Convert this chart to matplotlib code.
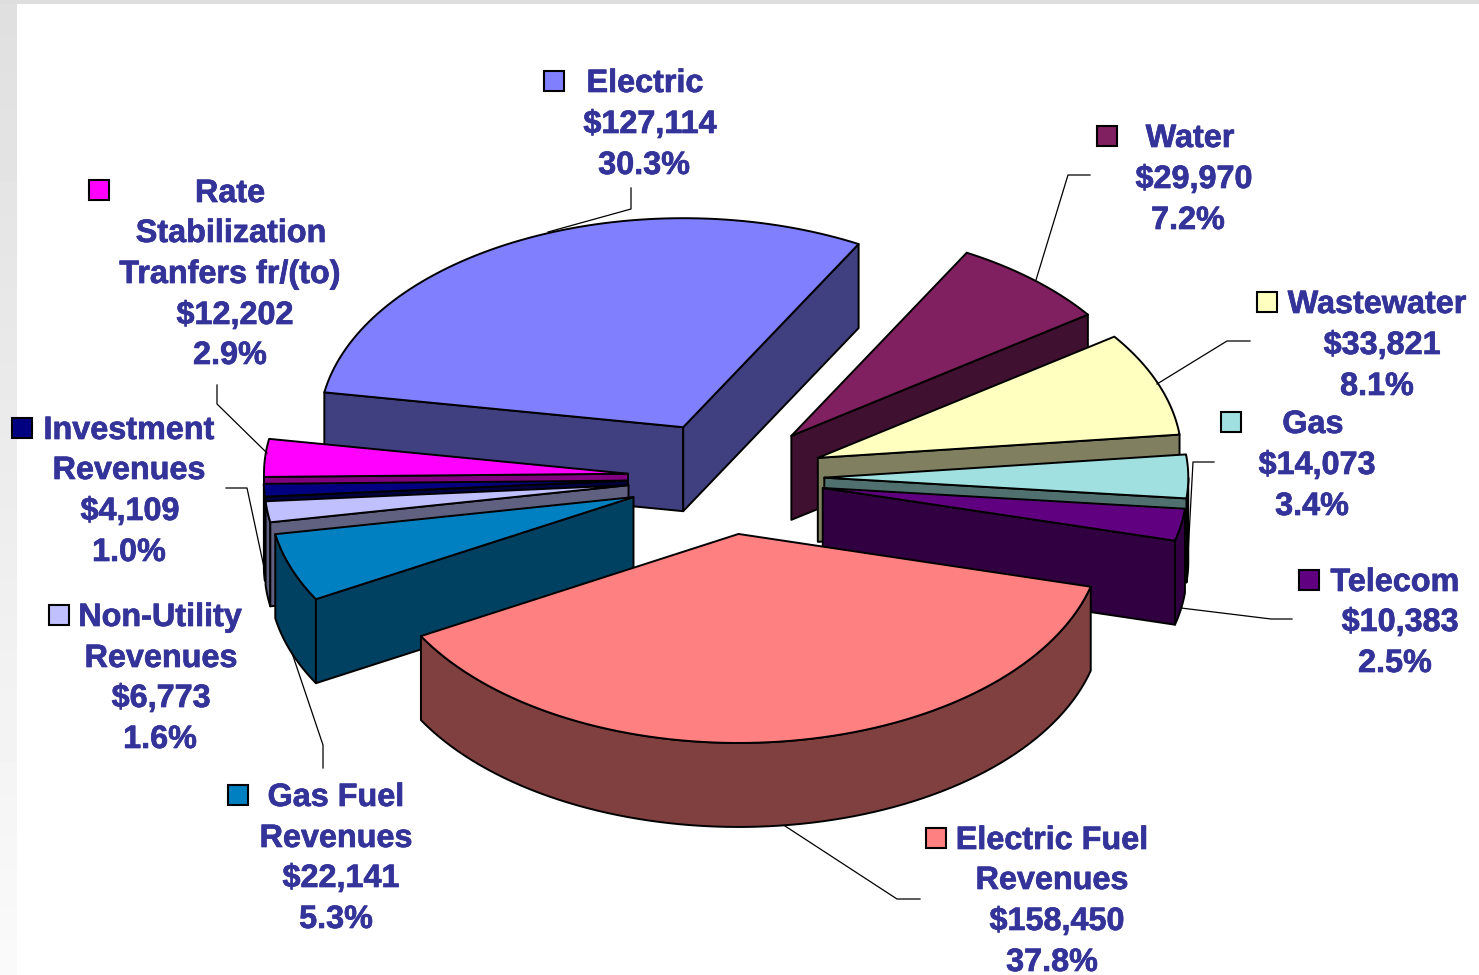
import numpy as np
import matplotlib
matplotlib.use("Agg")
import matplotlib.pyplot as plt
import matplotlib.patheffects as pe
from matplotlib.patches import Polygon, Rectangle

names = ["Electric", "Water", "Wastewater", "Gas", "Telecom", "Electric Fuel Revenues",
         "Gas Fuel Revenues", "Non-Utility Revenues", "Investment Revenues",
         "Rate Stabilization Tranfers fr/(to)"]
values = [127114, 29970, 33821, 14073, 10383, 158450, 22141, 6773, 4109, 12202]
top_colors = ["#8080FF", "#802060", "#FFFFC0", "#A0E0E0", "#600080", "#FF8080",
              "#0080C0", "#C0C0FF", "#000080", "#FF00FF"]
side_colors = ["#404080", "#401030", "#808060", "#507070", "#300040", "#804040",
               "#004060", "#606080", "#000040", "#800080"]
# back slices first, the big front slice last
draw_order = [0, 1, 2, 3, 4, 9, 8, 7, 6, 5]

# label text: one list of (x centre, baseline y, text) per slice
label_lines = [
    [(645, 92, "Electric"), (650, 133, "$127,114"), (644, 174, "30.3%")],
    [(1190, 147, "Water"), (1194, 188, "$29,970"), (1188, 229, "7.2%")],
    [(1377, 313, "Wastewater"), (1382, 354, "$33,821"), (1377, 395, "8.1%")],
    [(1313, 433, "Gas"), (1317, 474, "$14,073"), (1312, 515, "3.4%")],
    [(1395, 591, "Telecom"), (1400, 631, "$10,383"), (1395, 672, "2.5%")],
    [(1052, 849, "Electric Fuel"), (1052, 889, "Revenues"), (1057, 930, "$158,450"), (1052, 971, "37.8%")],
    [(336, 806, "Gas Fuel"), (336, 847, "Revenues"), (341, 887, "$22,141"), (336, 928, "5.3%")],
    [(160, 626, "Non-Utility"), (161, 667, "Revenues"), (161, 707, "$6,773"), (160, 748, "1.6%")],
    [(129, 439, "Investment"), (129, 479, "Revenues"), (130, 520, "$4,109"), (129, 561, "1.0%")],
    [(230, 202, "Rate"), (231, 242, "Stabilization"), (230, 283, "Tranfers fr/(to)"), (235, 324, "$12,202"), (230, 364, "2.9%")],
]
legend_boxes = [(554, 81), (1107, 136), (1267, 302), (1231, 422), (1309, 580),
                (936, 838), (238, 795), (59, 615), (22, 428), (99, 190)]
leaders = [
    [(631, 188), (631, 209), (548, 232)],
    [(1090, 175), (1068, 175), (1036, 280)],
    [(1250, 341), (1227, 341), (1157, 384)],
    [(1214, 462), (1193, 462), (1187, 573)],
    [(1292, 619), (1271, 619), (1181, 608)],
    [(920, 899), (897, 899), (785, 826)],
    [(323, 768), (323, 745), (292, 653)],
    [(226, 488), (247, 488), (265, 572)],
    [(217, 385), (217, 404), (267, 453)],
]

CX, CY = 726, 478
RX, RY = 364, 209
EXPLODE = 0.27
DEPTH = 84
START = 170.4
TEXT_COLOR = "#333399"


def point(center, angle):
    rad = np.radians(angle)
    return np.array([center[0] + RX * np.cos(rad), center[1] - RY * np.sin(rad)])


def draw_slice(ax, t1, t2, top, side):
    mid = (t1 + t2) / 2
    apex = point((CX, CY), mid) * EXPLODE + np.array([CX, CY]) * (1 - EXPLODE)
    drop = np.array([0, DEPTH])
    arc_angles = np.linspace(t1, t2, 80)
    arc = np.array([point(apex, a) for a in arc_angles])
    style = dict(edgecolor="black", linewidth=1.4, joinstyle="round")

    # outer wall, only the part that faces the viewer
    front = np.sin(np.radians(arc_angles)) <= 0
    if front.sum() > 1:
        part = arc[front]
        ax.add_patch(Polygon(np.vstack([part, (part + drop)[::-1]]), facecolor=side, **style))

    # flat cut walls, skipped when they face away
    if np.cos(np.radians(t1)) < 0:
        edge = point(apex, t1)
        ax.add_patch(Polygon([apex, edge, edge + drop, apex + drop], facecolor=side, **style))
    if np.cos(np.radians(t2)) > 0:
        edge = point(apex, t2)
        ax.add_patch(Polygon([apex, edge, edge + drop, apex + drop], facecolor=side, **style))

    ax.add_patch(Polygon(np.vstack([apex, arc]), facecolor=top, **style))


fig = plt.figure(figsize=(14.79, 9.75), dpi=100)
ax = fig.add_axes([0, 0, 1, 1])
ax.axis("off")

# slide background: grey strip on the left that fades out, thin one on top
fade = np.linspace(0.875, 0.98, 256).reshape(-1, 1)
ax.imshow(fade, extent=(0, 17, 975, 0), cmap="gray", vmin=0, vmax=1, aspect="auto", zorder=0)
ax.add_patch(Rectangle((0, 0), 1479, 3.5, facecolor="#DEDEDE", edgecolor="none", zorder=0))
ax.set_xlim(0, 1479)
ax.set_ylim(975, 0)

sweeps = np.array(values) / sum(values) * 360
starts = START - np.concatenate([[0], np.cumsum(sweeps)[:-1]])
ends = starts - sweeps

for i in draw_order:
    draw_slice(ax, starts[i], ends[i], top_colors[i], side_colors[i])

for path in leaders:
    xs, ys = zip(*path)
    ax.plot(xs, ys, color="black", linewidth=0.9)

heavier = [pe.withStroke(linewidth=0.5, foreground=TEXT_COLOR)]
for i, lines in enumerate(label_lines):
    bx, by = legend_boxes[i]
    ax.add_patch(Rectangle((bx - 10, by - 10), 20, 20, facecolor=top_colors[i],
                           edgecolor="black", linewidth=1.5))
    for x, y, text in lines:
        ax.text(x, y, text, color=TEXT_COLOR, fontsize=23.3, fontweight="bold",
                family="Liberation Sans", ha="center", va="baseline", path_effects=heavier)

fig.savefig("out.png", dpi=100)
plt.close(fig)
